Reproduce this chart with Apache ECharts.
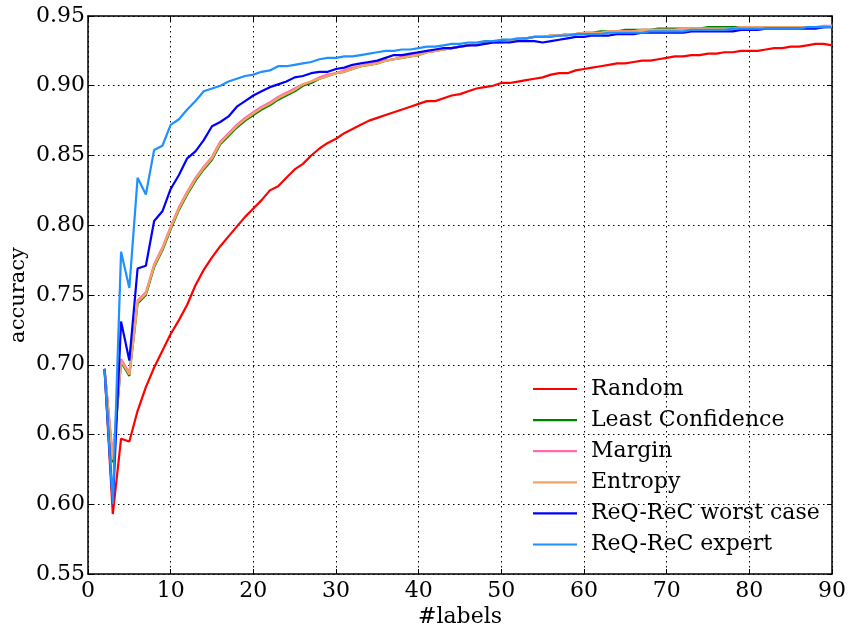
<!DOCTYPE html>
<html>
<head>
<meta charset="utf-8">
<script src="https://cdn.jsdelivr.net/npm/echarts@6/dist/echarts.min.js"></script>
<style>
html,body{margin:0;padding:0;background:#fff;}
#c{width:849px;height:624px;}
</style>
</head>
<body>
<div id="c"></div>
<script>
var seriesNames = ['Random','Least Confidence','Margin','Entropy','ReQ-ReC worst case','ReQ-ReC expert'];
var xTicks = [0,10,20,30,40,50,60,70,80,90];
var yTicks = [0.55,0.60,0.65,0.70,0.75,0.80,0.85,0.90,0.95];
var labelsX = [];
for (var i = 2; i <= 90; i++) labelsX.push(i);

var random = [0.697,0.593,0.647,0.645,0.667,0.684,0.698,0.710,0.722,0.732,
0.743,0.757,0.768,0.777,0.785,0.792,0.799,0.806,0.812,0.818,
0.825,0.828,0.834,0.840,0.844,0.850,0.855,0.859,0.862,0.866,
0.869,0.872,0.875,0.877,0.879,0.881,0.883,0.885,0.887,0.889,
0.889,0.891,0.893,0.894,0.896,0.898,0.899,0.900,0.902,0.902,
0.903,0.904,0.905,0.906,0.908,0.909,0.909,0.911,0.912,0.913,
0.914,0.915,0.916,0.916,0.917,0.918,0.918,0.919,0.920,0.921,
0.921,0.922,0.922,0.923,0.923,0.924,0.924,0.925,0.925,0.925,
0.926,0.927,0.927,0.928,0.928,0.929,0.930,0.930,0.929];

var leastConfidence = [0.697,0.630,0.702,0.692,0.744,0.750,0.770,0.782,0.797,0.811,
0.822,0.832,0.840,0.847,0.858,0.864,0.870,0.875,0.879,0.883,
0.886,0.890,0.893,0.896,0.900,0.902,0.905,0.907,0.909,0.910,
0.912,0.914,0.915,0.916,0.918,0.919,0.920,0.921,0.922,0.924,
0.925,0.926,0.927,0.928,0.929,0.930,0.931,0.931,0.932,0.932,
0.933,0.934,0.935,0.935,0.936,0.936,0.937,0.937,0.938,0.938,
0.939,0.939,0.939,0.940,0.940,0.940,0.940,0.941,0.941,0.941,
0.941,0.941,0.941,0.942,0.942,0.942,0.942,0.942,0.942,0.942,
0.942,0.942,0.942,0.942,0.942,0.942,0.942,0.942,0.943];

var margin = [0.697,0.634,0.704,0.694,0.746,0.752,0.772,0.784,0.799,0.813,
0.824,0.834,0.842,0.849,0.860,0.866,0.872,0.877,0.881,0.885,
0.888,0.892,0.895,0.898,0.901,0.903,0.906,0.908,0.909,0.911,
0.913,0.914,0.916,0.917,0.918,0.919,0.921,0.922,0.923,0.924,
0.925,0.926,0.927,0.928,0.929,0.930,0.930,0.931,0.931,0.932,
0.933,0.934,0.935,0.935,0.936,0.936,0.937,0.937,0.938,0.938,
0.938,0.939,0.939,0.939,0.939,0.940,0.940,0.940,0.940,0.940,
0.941,0.941,0.941,0.941,0.941,0.941,0.941,0.942,0.942,0.942,
0.942,0.942,0.942,0.942,0.942,0.942,0.942,0.943,0.943];

var entropy = [0.697,0.632,0.703,0.693,0.745,0.751,0.771,0.783,0.798,0.812,
0.823,0.833,0.841,0.848,0.859,0.865,0.871,0.876,0.880,0.884,
0.887,0.891,0.894,0.897,0.901,0.903,0.905,0.907,0.909,0.910,
0.912,0.914,0.915,0.916,0.918,0.919,0.920,0.921,0.922,0.924,
0.925,0.926,0.927,0.928,0.929,0.930,0.930,0.931,0.931,0.932,
0.933,0.934,0.935,0.935,0.936,0.936,0.937,0.937,0.938,0.938,
0.938,0.939,0.939,0.939,0.939,0.940,0.940,0.940,0.940,0.940,
0.941,0.941,0.941,0.941,0.941,0.941,0.941,0.942,0.942,0.942,
0.942,0.942,0.942,0.942,0.942,0.942,0.942,0.942,0.943];

var worstCase = [0.697,0.600,0.731,0.703,0.769,0.771,0.803,0.810,0.826,0.836,
0.848,0.853,0.861,0.871,0.874,0.878,0.885,0.889,0.893,0.896,
0.899,0.901,0.903,0.906,0.907,0.909,0.910,0.910,0.912,0.913,
0.915,0.916,0.917,0.918,0.920,0.922,0.922,0.923,0.924,0.925,
0.926,0.927,0.927,0.928,0.929,0.929,0.930,0.931,0.931,0.931,
0.932,0.932,0.932,0.931,0.932,0.933,0.934,0.935,0.935,0.936,
0.936,0.936,0.937,0.937,0.937,0.938,0.938,0.938,0.938,0.938,
0.938,0.939,0.939,0.939,0.939,0.939,0.939,0.940,0.940,0.940,
0.941,0.941,0.941,0.941,0.941,0.941,0.941,0.942,0.942];

var expert = [0.697,0.600,0.781,0.755,0.834,0.822,0.854,0.857,0.872,0.876,
0.883,0.889,0.896,0.898,0.900,0.903,0.905,0.907,0.908,0.910,
0.911,0.914,0.914,0.915,0.916,0.917,0.919,0.920,0.920,0.921,
0.921,0.922,0.923,0.924,0.925,0.925,0.926,0.926,0.927,0.928,
0.928,0.929,0.930,0.930,0.931,0.931,0.932,0.932,0.933,0.933,
0.934,0.934,0.935,0.935,0.935,0.936,0.936,0.937,0.937,0.937,
0.937,0.938,0.938,0.938,0.938,0.938,0.939,0.939,0.939,0.939,
0.939,0.940,0.940,0.940,0.940,0.940,0.941,0.941,0.941,0.941,
0.941,0.941,0.941,0.941,0.941,0.942,0.942,0.942,0.942];

var allValues = [random, leastConfidence, margin, entropy, worstCase, expert];
var colors = ['#ff0000','#008000','#ff69b4','#f4a460','#0000ff','#1e90ff'];

var FONT = 'DejaVu Serif';

function pairs(vals){
  var out = [];
  for (var i = 0; i < vals.length; i++) out.push([labelsX[i], vals[i]]);
  return out;
}

var series = seriesNames.map(function(n, k){
  return {
    name: n,
    type: 'line',
    xAxisIndex: 0,
    yAxisIndex: 0,
    data: pairs(allValues[k]),
    symbol: 'none',
    showSymbol: false,
    smooth: false,
    animation: false,
    lineStyle: {color: colors[k], width: 2.2},
    itemStyle: {color: colors[k]},
    z: 2 + k
  };
});

var tickStyle = {show: true, inside: true, length: 5, lineStyle: {color: '#000', width: 1}};
var axisLineStyle = {show: true, onZero: false, lineStyle: {color: '#000', width: 1.5}};

var chart = echarts.init(document.getElementById('c'), null, {renderer: 'canvas'});
chart.setOption({
  animation: false,
  backgroundColor: '#fff',
  grid: {left: 88, right: 17, top: 16, bottom: 50, containLabel: false, outerBoundsMode: 'none'},
  legend: {
    orient: 'vertical',
    left: 528,
    top: 373,
    itemWidth: 44,
    itemHeight: 14,
    itemGap: 9.1,
    icon: 'path://M0,6 L44,6 L44,8.2 L0,8.2 Z',
    data: seriesNames,
    textStyle: {fontFamily: FONT, fontSize: 22, color: '#000', padding: [0,0,0,9]},
    backgroundColor: 'rgba(255,255,255,0)'
  },
  xAxis: [{
    type: 'value', min: 0, max: 90, interval: 10, position: 'bottom',
    name: '#labels', nameLocation: 'middle', nameGap: 32, nameMoveOverlap: false,
    nameTextStyle: {fontFamily: FONT, fontSize: 22, color: '#000'},
    axisLine: axisLineStyle,
    axisTick: tickStyle,
    axisLabel: {fontFamily: FONT, fontSize: 22, color: '#000', margin: 6,
      formatter: function(v){ return xTicks.indexOf(v) >= 0 ? String(v) : ''; }},
    splitLine: {show: true, lineStyle: {color: '#000', width: 1, type: [1.5, 3.5]}}
  },{
    type: 'value', min: 0, max: 90, interval: 10, position: 'top',
    axisLine: axisLineStyle, axisTick: tickStyle,
    axisLabel: {show: false}, splitLine: {show: false}
  }],
  yAxis: [{
    type: 'value', min: 0.55, max: 0.95, interval: 0.05, position: 'left',
    name: 'accuracy', nameLocation: 'middle', nameGap: 59, nameRotate: 90, nameMoveOverlap: false,
    nameTextStyle: {fontFamily: FONT, fontSize: 21, color: '#000'},
    axisLine: axisLineStyle,
    axisTick: tickStyle,
    axisLabel: {fontFamily: FONT, fontSize: 22, color: '#000', margin: 3,
      formatter: function(v){
        for (var i = 0; i < yTicks.length; i++) if (Math.abs(yTicks[i]-v) < 1e-6) return yTicks[i].toFixed(2);
        return '';
      }},
    splitLine: {show: true, lineStyle: {color: '#000', width: 1, type: [1.5, 3.5]}}
  },{
    type: 'value', min: 0.55, max: 0.95, interval: 0.05, position: 'right',
    axisLine: axisLineStyle, axisTick: tickStyle,
    axisLabel: {show: false}, splitLine: {show: false}
  }],
  series: series
});
</script>
</body>
</html>
